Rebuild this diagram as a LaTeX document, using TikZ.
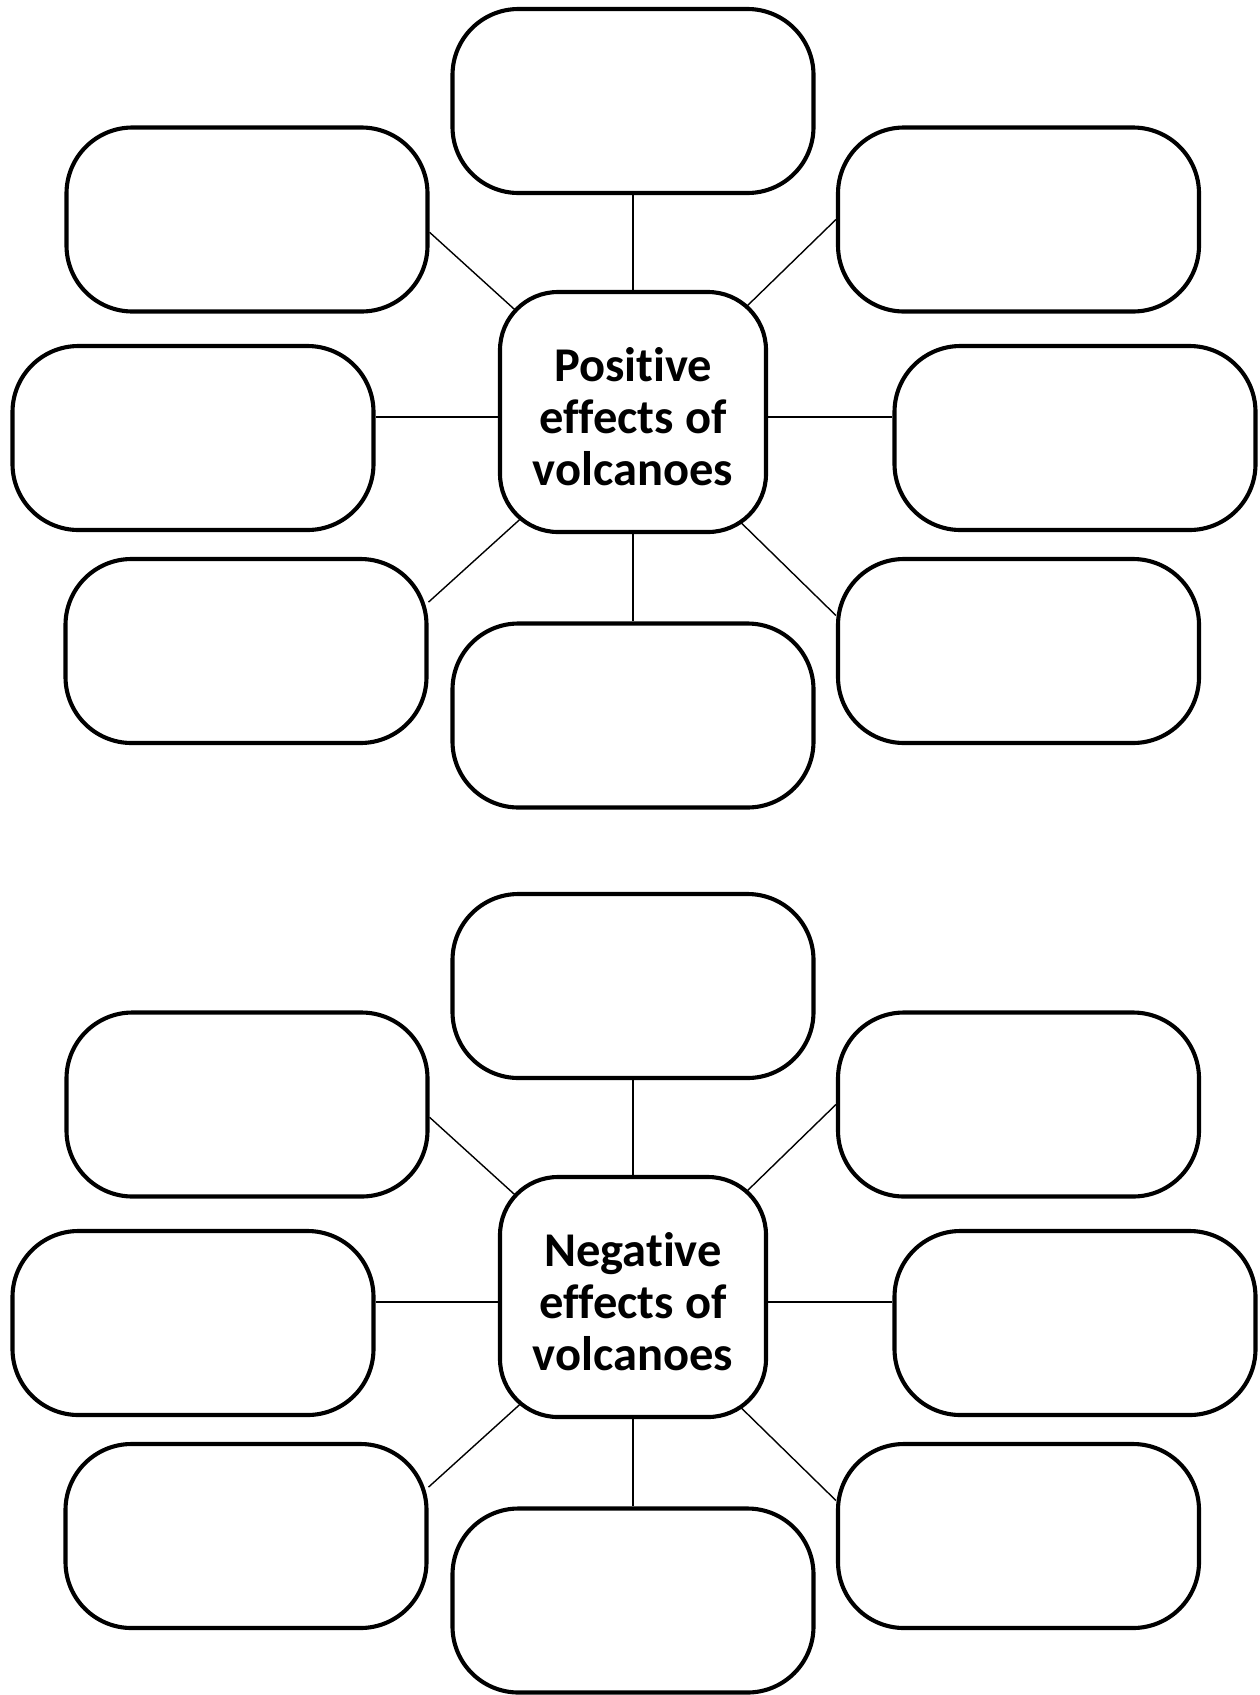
\documentclass[tikz,border=0pt]{standalone}
\usepackage{fontspec}
\usepackage{tikz}
\usetikzlibrary{backgrounds}
\newfontfamily\hubfont{Carlito}[RawFeature=-liga]

\tikzset{
  effbox/.style={draw, line width=4.1pt, fill=white, rounded corners=66pt,
    minimum width=361pt, minimum height=184pt, inner sep=0pt},
  hubbox/.style={draw, line width=4.1pt, fill=white, rounded corners=58pt,
    minimum width=266pt, minimum height=240pt, inner sep=0pt, align=center,
    text height=148pt,
    font=\hubfont\bfseries\fontsize{48.5}{52}\selectfont},
  spoke/.style={line width=1.4pt},
}

\begin{document}
\begin{tikzpicture}[x=1pt, y=-1pt]
  \useasboundingbox (0,0) rectangle (1260,1695);

  % positive effects
  \node (pc) [hubbox] at (633,412) {Positive\\effects of\\volcanoes};
  \coordinate (phub) at ([yshift=-5pt]pc.center);
  \node (ptop) [effbox] at (633,101) {};
  \node (pul) [effbox] at (247,219.5) {};
  \node (pur) [effbox] at (1018.5,219.5) {};
  \node (pml) [effbox] at (193,438) {};
  \node (pmr) [effbox] at (1075,438) {};
  \node (pll) [effbox] at (246,651) {};
  \node (plr) [effbox] at (1018.5,651) {};
  \node (pbot) [effbox] at (633,715.5) {};
  \begin{scope}[on background layer]
    \draw[spoke] (phub) -- (ptop.south);
    \draw[spoke] (phub) -- (pbot.north);
    \draw[spoke] (phub) -- (pul.-4);
    \draw[spoke] (phub) -- (pur.west);
    \draw[spoke] (phub) -- (phub -| pml.east);
    \draw[spoke] (phub) -- (phub -| pmr.west);
    \draw[spoke] (phub) -- (pll.15);
    \draw[spoke] (phub) -- (plr.169);
  \end{scope}

  % negative effects
  \node (nc) [hubbox] at (633,1297) {Negative\\effects of\\volcanoes};
  \coordinate (nhub) at ([yshift=-5pt]nc.center);
  \node (ntop) [effbox] at (633,986) {};
  \node (nul) [effbox] at (247,1104.5) {};
  \node (nur) [effbox] at (1018.5,1104.5) {};
  \node (nml) [effbox] at (193,1323) {};
  \node (nmr) [effbox] at (1075,1323) {};
  \node (nll) [effbox] at (246,1536) {};
  \node (nlr) [effbox] at (1018.5,1536) {};
  \node (nbot) [effbox] at (633,1600.5) {};
  \begin{scope}[on background layer]
    \draw[spoke] (nhub) -- (ntop.south);
    \draw[spoke] (nhub) -- (nbot.north);
    \draw[spoke] (nhub) -- (nul.-4);
    \draw[spoke] (nhub) -- (nur.west);
    \draw[spoke] (nhub) -- (nhub -| nml.east);
    \draw[spoke] (nhub) -- (nhub -| nmr.west);
    \draw[spoke] (nhub) -- (nll.15);
    \draw[spoke] (nhub) -- (nlr.169);
  \end{scope}
\end{tikzpicture}
\end{document}
